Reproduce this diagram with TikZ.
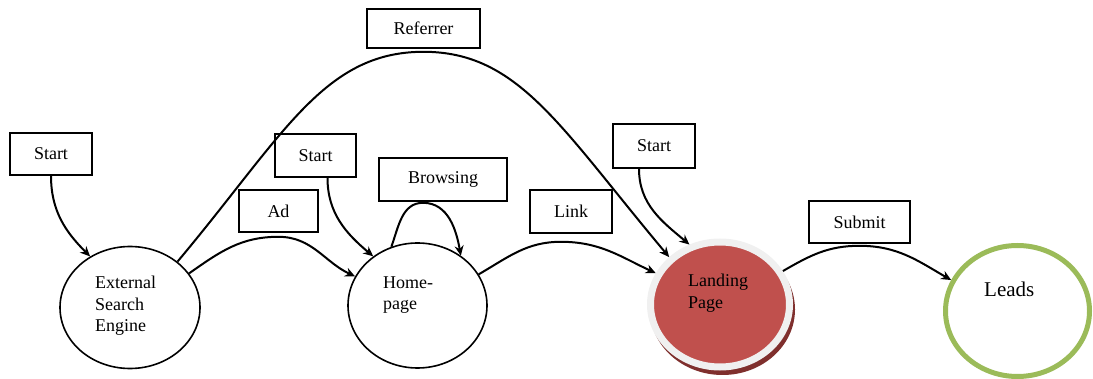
\documentclass[tikz,border=0pt]{standalone}
\usepackage{fontspec}
\setmainfont{Liberation Serif}
\usepackage{tikz}
\usetikzlibrary{arrows.meta,shapes.geometric}

\definecolor{lpred}{HTML}{C0504D}
\definecolor{lpring}{HTML}{F0F0F0}
\definecolor{lpshade}{HTML}{7F2F2D}
\definecolor{leadgreen}{HTML}{9BBB59}

\begin{document}
\begin{tikzpicture}[
  x=1pt,y=1pt,
  font=\fontsize{18}{21.5}\selectfont,
  tag/.style={draw,line width=1.6pt,minimum height=42pt,inner sep=0pt,anchor=center},
  state/.style={draw,ellipse,line width=1.6pt,inner sep=0pt,outer sep=0.8pt},
  txt/.style={align=left,inner sep=0pt,anchor=west},
  arr/.style={-{Stealth[length=10pt,width=9pt]},line width=2pt}
]
\useasboundingbox (0,0) rectangle (1093,-379);

% states
\node[state,minimum width=140pt,minimum height=122pt] (ese) at (130,-307.5) {};
\node[txt] (esetxt) at (95,-306) {External\\Search\\Engine};
\node[state,minimum width=139pt,minimum height=125pt] (hp) at (417.5,-305.5) {};
\node[txt] (hptxt) at (383,-295) {Home-\\page};

% landing page with its shade
\node[ellipse,fill=lpshade,minimum width=145pt,minimum height=131pt,inner sep=0pt] (lpshd) at (722.5,-309.5) {};
\node[ellipse,draw=lpring,fill=lpred,line width=7pt,minimum width=139pt,minimum height=125pt,
      inner sep=0pt,outer sep=3.5pt] (lp) at (720,-304.5) {};
\node[txt] (lptxt) at (688,-293) {Landing\\Page};

\node[ellipse,draw=leadgreen,line width=5pt,minimum width=144pt,minimum height=131pt,
      inner sep=0pt,outer sep=2.5pt] (ld) at (1017.5,-311) {};
\node[txt,font=\fontsize{21}{24}\selectfont] (ldtxt) at (984,-289) {Leads};

% label boxes
\node[tag,minimum width=82pt] (st1) at (51,-154) {Start};
\node[tag,minimum width=79pt] (ad) at (278.5,-211) {Ad};
\node[tag,minimum width=81pt,minimum height=43pt] (st2) at (315.5,-155.5) {Start};
\node[tag,minimum width=128pt,minimum height=43pt] (br) at (443,-179.5) {Browsing};
\node[tag,minimum width=113pt,minimum height=39pt] (rf) at (423.5,-28.5) {Referrer};
\node[tag,minimum width=82pt,minimum height=43pt] (lk) at (571,-211.5) {Link};
\node[tag,minimum width=82pt,minimum height=44pt] (st3) at (654,-146) {Start};
\node[tag,minimum width=101pt] (sb) at (859.5,-222) {Submit};

% connectors
\draw[arr] (st1.south) to[out=-90,in=135] (ese.128);
\draw[arr] (ese.44) .. controls +(50:165) and +(-100,0) .. ([yshift=-3pt]rf.south)
                    .. controls +(95,0) and +(130:170) .. (lp.137);
\draw[arr] (ese.30) to[out=35,in=180] ([yshift=-4pt]ad.south) to[out=0,in=155] (hp.155);
\draw[arr] ([xshift=12pt]st2.south) to[out=-90,in=140] (hp.132);
\draw[arr] (hp.114) to[out=70,in=180] ([xshift=-20pt,yshift=-1pt]br.south) to[out=0,in=100] (hp.49);
\draw[arr] (hp.27) to[out=30,in=180] ([xshift=-10pt,yshift=-8pt]lk.south) to[out=0,in=155] (lp.154);
\draw[arr] ([xshift=-15pt]st3.south) to[out=-90,in=140] (lp.117);
\draw[arr] (lp.28) to[out=30,in=180] ([yshift=-2pt]sb.south) to[out=0,in=150] (ld.155);
\end{tikzpicture}
\end{document}
